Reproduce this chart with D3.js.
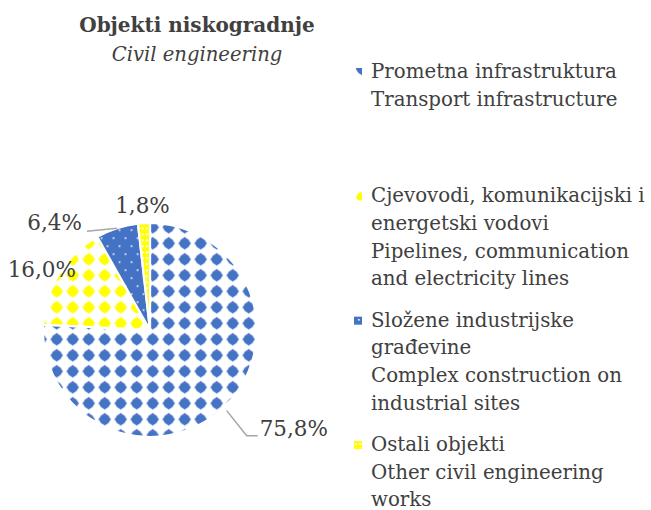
<!DOCTYPE html>
<html>
<head>
<meta charset="utf-8">
<script src="https://cdn.jsdelivr.net/npm/d3@7"></script>
<style>
  body { margin: 0; background: #fff; }
  svg { display: block; }
</style>
</head>
<body>
<svg id="chart" width="651" height="510"></svg>
<script>
// data
var categories = ["Prometna infrastruktura", "Cjevovodi, komunikacijski i energetski vodovi",
                  "Složene industrijske građevine", "Ostali objekti"];
var shares = [75.8, 16.0, 6.4, 1.8];
var legendLines = [
  ["Prometna infrastruktura", "Transport infrastructure"],
  ["Cjevovodi, komunikacijski i", "energetski vodovi", "Pipelines, communication", "and electricity lines"],
  ["Složene industrijske", "građevine", "Complex construction on", "industrial sites"],
  ["Ostali objekti", "Other civil engineering", "works"]
];
var titleText = "Objekti niskogradnje";
var subtitleText = "Civil engineering";

// layout
var W = 651, H = 510;
var cx = 150, cy = 330, radius = 107;
var font = "'DejaVu Serif', 'Liberation Serif', serif";
var textColor = "#404040";
var blue = "#4472C4", yellow = "#FFFF00";
var fills = ["dotsBlue", "dotsYellow", "blueFine", "yellowFine"];

var locale = d3.formatLocale({decimal: ",", thousands: ".", grouping: [3], currency: ["", ""]});
var fmt = locale.format(".1f");

var svg = d3.select("#chart");
var defs = svg.append("defs");

// patterns; ox/oy place a dot centre in the element's user space
function makePatterns(suffix, ox, oy) {
  [["dotsBlue", blue], ["dotsYellow", yellow]].forEach(function(p) {
    var pat = defs.append("pattern")
      .attr("id", p[0] + suffix)
      .attr("patternUnits", "userSpaceOnUse")
      .attr("x", ox - 8).attr("y", oy - 8)
      .attr("width", 16).attr("height", 16);
    pat.append("rect").attr("width", 16).attr("height", 16).attr("fill", "#fff");
    pat.append("circle").attr("cx", 8).attr("cy", 8).attr("r", 5.2).attr("fill", p[1]);
    pat.append("path").attr("d", "M8,1.6L14.4,8L8,14.4L1.6,8Z").attr("fill", p[1]);
  });
  var bf = defs.append("pattern")
    .attr("id", "blueFine" + suffix)
    .attr("patternUnits", "userSpaceOnUse")
    .attr("x", ox).attr("y", oy)
    .attr("width", 12).attr("height", 16);
  bf.append("rect").attr("width", 12).attr("height", 16).attr("fill", blue);
  bf.append("rect").attr("x", 2).attr("y", 2).attr("width", 1.6).attr("height", 1.6).attr("fill", "#fff");
  bf.append("rect").attr("x", 8).attr("y", 10).attr("width", 1.6).attr("height", 1.6).attr("fill", "#fff");

  var yf = defs.append("pattern")
    .attr("id", "yellowFine" + suffix)
    .attr("patternUnits", "userSpaceOnUse")
    .attr("x", ox).attr("y", oy)
    .attr("width", 4).attr("height", 6);
  yf.append("rect").attr("width", 4).attr("height", 6).attr("fill", yellow);
  yf.append("rect").attr("x", 1).attr("y", 2).attr("width", 2).attr("height", 2).attr("fill", "#fff");
}
// pie lives in a translated group, so offset its patterns from the centre
makePatterns("", 56.7 - cx, 339.3 - cy);
makePatterns("-lg", 362, 69);

// pie
var pie = d3.pie().sort(null).startAngle(0).endAngle(2 * Math.PI);
var arcs = pie(shares);
var arc = d3.arc().innerRadius(0).outerRadius(radius);

var g = svg.append("g").attr("transform", "translate(" + cx + "," + cy + ")");
g.selectAll("path.slice")
  .data(arcs)
  .enter().append("path")
  .attr("class", "slice")
  .attr("d", arc)
  .attr("fill", function(d, i) { return "url(#" + fills[i] + ")"; })
  .attr("stroke", "#fff")
  .attr("stroke-width", 2.2)
  .attr("stroke-linejoin", "round");

// data labels, placed from each slice's outer point
var labelLayout = [
  {r: 1.04, dx: 33, dy: 25, anchor: "start", leader: [[1.04, 0, 0], [null, 20, 25], [null, 31, 25]]},
  {r: 1.0, dx: 17, dy: 3, anchor: "end"},
  {r: 1.0, dx: -35, dy: 2, anchor: "end", leader: [[1.0, 0, 0], [null, -30, 3]]},
  {r: 1.0, dx: -1.5, dy: -10, anchor: "middle"}
];
function outerPoint(d, k) {
  var a = (d.startAngle + d.endAngle) / 2;
  return [Math.sin(a) * radius * k, -Math.cos(a) * radius * k];
}
arcs.forEach(function(d, i) {
  var lay = labelLayout[i];
  var p = outerPoint(d, lay.r);
  if (lay.leader) {
    var pts = lay.leader.map(function(s) { return [p[0] + s[1], p[1] + s[2]]; });
    g.append("path")
      .attr("d", d3.line()(pts))
      .attr("fill", "none")
      .attr("stroke", "#a6a6a6")
      .attr("stroke-width", 1.5);
  }
  g.append("text")
    .attr("x", p[0] + lay.dx)
    .attr("y", p[1] + lay.dy)
    .attr("text-anchor", lay.anchor)
    .style("font-family", font)
    .style("font-size", "21.5px")
    .style("fill", textColor)
    .text(fmt(d.data) + "%");
});

// title
svg.append("text")
  .attr("x", 197).attr("y", 32)
  .attr("text-anchor", "middle")
  .style("font-family", font).style("font-size", "20px").style("font-weight", "bold")
  .style("fill", textColor)
  .text(titleText);
svg.append("text")
  .attr("x", 197).attr("y", 61)
  .attr("text-anchor", "middle")
  .style("font-family", font).style("font-size", "19.6px").style("font-style", "italic")
  .style("fill", textColor)
  .text(subtitleText);

// legend
var yLegend = d3.scalePoint().domain(categories).range([78, 451]);
var lineH = 27.7;
var leg = svg.append("g");
categories.forEach(function(c, i) {
  var y0 = yLegend(c);
  leg.append("rect")
    .attr("x", 354).attr("y", y0 - 10)
    .attr("width", 8).attr("height", 8)
    .attr("fill", "url(#" + fills[i] + "-lg)");
  var t = leg.append("text")
    .attr("x", 371).attr("y", y0)
    .style("font-family", font).style("font-size", "19.8px")
    .style("fill", textColor);
  legendLines[i].forEach(function(line, j) {
    t.append("tspan").attr("x", 371).attr("y", y0 + j * lineH).text(line);
  });
});
</script>
</body>
</html>
